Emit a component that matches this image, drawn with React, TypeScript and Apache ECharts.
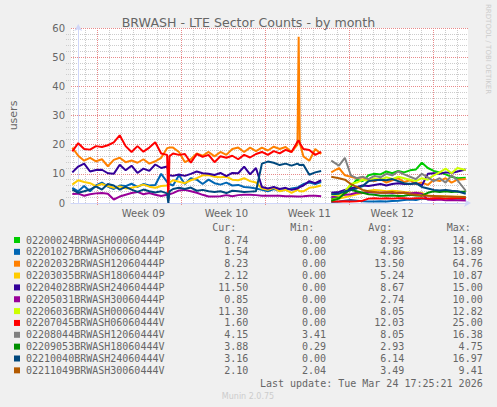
import React, { useEffect, useRef } from "react";
import * as echarts from "echarts";

// x coordinate = days; 0 = first day grid line after the left edge
const seg1Times = [-0.5, 0, 0.5, 1, 1.5, 2, 2.5, 3, 3.5, 4, 4.5, 5, 5.5, 6, 6.5, 7, 7.5, 7.6, 7.7, 8, 8.5, 9, 9.5, 10, 10.5, 11, 11.5, 12, 12.5, 13, 13.5, 14, 14.5, 15, 15.5, 16, 16.5, 17, 17.5, 18, 18.5, 18.6, 18.7, 19, 19.5, 20, 20.5];
const gapTime = 21.0;
const seg2Times = [21.35, 22, 22.5, 23, 23.5, 24, 24.5, 25, 25.5, 26, 26.5, 27, 27.5, 28, 28.5, 29, 29.5, 30, 30.5, 31, 31.5, 32, 32.7];

const weekLabels = ["Week 09", "Week 10", "Week 11", "Week 12"];

// first segment (7 series)
const seg1Blue = [5.2, 4.0, 5.8, 4.0, 6.0, 7.0, 5.6, 4.8, 6.0, 5.8, 6.6, 5.5, 6.5, 6.0, 6.2, 10.0, 7.2, 6.8, 6.5, 6.0, 9.5, 6.5, 8.5, 8.0, 6.5, 8.0, 6.8, 6.3, 7.0, 6.0, 6.2, 5.5, 5.3, 5.0, 4.5, 4.0, 4.8, 4.2, 4.5, 5.0, 5.3, 5.5, 5.8, 6.5, 7.0, 6.5, 7.2];
const seg1Orange = [19.0, 16.2, 14.5, 15.5, 14.3, 15.0, 12.6, 14.8, 15.5, 14.0, 14.6, 13.8, 15.0, 13.5, 14.3, 15.5, 18.8, 18.9, 19.0, 19.0, 17.5, 14.0, 15.0, 17.0, 16.2, 17.5, 16.0, 17.5, 16.5, 18.5, 19.0, 17.5, 19.0, 17.8, 19.0, 18.0, 19.3, 18.5, 19.2, 17.5, 20.0, 57.0, 20.5, 16.0, 14.5, 18.5, 16.8];
const seg1Yellow = [6.3, 7.8, 7.2, 6.8, 5.8, 6.5, 5.8, 5.2, 5.7, 5.0, 5.2, 5.7, 6.3, 5.6, 5.2, 5.8, 6.0, 6.5, 7.0, 7.8, 7.3, 6.8, 7.8, 8.5, 9.5, 9.6, 9.0, 8.8, 9.0, 8.0, 7.8, 8.5, 7.5, 7.0, 5.0, 4.5, 5.2, 4.0, 4.5, 3.5, 4.5, 4.3, 4.0, 4.0, 5.2, 5.5, 6.0];
const seg1Indigo = [10.5, 12.5, 13.5, 10.8, 11.3, 11.4, 10.2, 10.0, 13.1, 11.2, 12.8, 10.3, 11.8, 11.0, 13.2, 12.0, 12.5, 11.0, 9.5, 9.3, 9.8, 9.3, 10.0, 10.8, 10.2, 10.0, 9.6, 10.3, 9.2, 10.3, 10.2, 12.5, 9.8, 12.0, 5.5, 5.0, 5.5, 4.8, 5.2, 4.5, 5.0, 5.2, 5.5, 6.0, 7.5, 6.8, 7.8];
const seg1Purple = [3.1, 3.2, 2.5, 3.0, 3.3, 3.4, 3.2, 1.2, 2.2, 2.8, 3.4, 3.8, 3.0, 3.4, 2.8, 2.4, 2.8, 2.9, 3.0, 3.4, 4.3, 4.5, 4.0, 3.5, 2.8, 2.2, 2.2, 2.3, 2.7, 2.3, 2.7, 2.8, 2.8, 2.7, 2.5, 2.5, 2.5, 2.5, 2.3, 2.3, 2.2, 2.2, 2.2, 2.3, 2.5, 2.5, 2.3];
const seg1Red = [17.7, 20.5, 18.5, 18.3, 19.5, 19.2, 19.8, 20.8, 23.2, 19.5, 17.5, 19.5, 17.6, 19.0, 20.8, 17.0, 16.5, 1.0, 16.0, 17.0, 16.5, 16.8, 13.8, 16.8, 15.8, 16.5, 14.0, 16.0, 15.5, 16.2, 15.0, 16.5, 15.6, 16.8, 17.5, 16.5, 17.8, 17.0, 18.2, 17.5, 21.0, 21.5, 20.5, 18.5, 18.2, 16.5, 17.5];
const seg1DarkBlue = [4.6, 3.5, 4.0, 4.6, 5.7, 4.6, 6.5, 6.0, 4.6, 5.5, 4.6, 3.8, 4.6, 4.0, 3.6, 4.0, 3.3, 0.0, 4.0, 4.8, 5.2, 4.8, 5.3, 4.2, 4.5, 4.0, 3.8, 4.0, 3.4, 4.2, 4.0, 3.8, 3.9, 4.0, 13.5, 14.2, 13.8, 13.0, 13.5, 12.8, 13.5, 13.2, 13.0, 13.1, 9.7, 10.5, 11.0];

// second segment (12 series)
const seg2Green = [1.5, 2.0, 3.0, 5.5, 8.0, 7.5, 9.5, 10.0, 9.8, 10.8, 10.2, 11.0, 10.5, 11.2, 11.5, 13.8, 12.0, 11.0, 10.5, 9.8, 9.0, 8.5, 8.7];
const seg2Blue = [0.3, 0.5, 0.8, 1.0, 0.8, 0.6, 0.5, 0.5, 0.6, 0.5, 0.7, 0.8, 1.0, 1.2, 1.0, 1.5, 1.3, 1.5, 1.6, 1.5, 1.4, 1.5, 1.5];
const seg2Orange = [10.5, 12.0, 9.5, 9.0, 8.5, 8.8, 8.0, 7.5, 8.2, 7.0, 7.8, 8.5, 7.2, 7.8, 6.5, 7.0, 6.2, 8.0, 7.5, 8.5, 7.0, 8.0, 8.2];
const seg2Yellow = [1.0, 1.5, 2.0, 2.5, 3.0, 3.5, 4.2, 4.5, 4.3, 4.0, 4.2, 4.0, 3.8, 3.6, 3.5, 3.5, 2.5, 2.2, 2.3, 2.2, 2.1, 2.2, 2.1];
const seg2Indigo = [3.5, 3.8, 4.5, 5.0, 5.5, 6.0, 5.8, 6.2, 6.5, 6.0, 6.5, 6.8, 6.5, 6.5, 6.8, 6.0, 10.0, 10.2, 10.0, 10.5, 10.3, 10.8, 11.5];
const seg2Purple = [2.0, 2.5, 2.8, 3.0, 3.5, 3.5, 3.8, 3.6, 3.5, 3.6, 3.4, 3.5, 3.5, 3.3, 3.5, 3.2, 1.2, 1.0, 1.2, 0.9, 1.0, 0.9, 0.85];
const seg2Lime = [3.0, 2.5, 4.0, 6.5, 7.0, 8.0, 7.5, 8.5, 8.0, 8.8, 8.2, 9.0, 8.5, 8.0, 7.5, 8.5, 8.0, 9.5, 10.5, 11.8, 10.2, 12.0, 11.3];
const seg2Red = [0.5, 0.5, 0.6, 0.5, 0.6, 0.8, 1.5, 1.6, 1.5, 1.6, 1.5, 1.6, 1.6, 1.5, 1.6, 1.6, 1.5, 1.6, 1.6, 1.5, 1.6, 1.6, 1.6];
const seg2Gray = [14.5, 12.8, 15.5, 9.5, 8.5, 9.0, 8.2, 9.3, 8.8, 10.0, 9.5, 10.8, 9.8, 9.0, 8.2, 10.0, 8.8, 7.5, 8.5, 7.0, 9.5, 7.8, 4.2];
const seg2DarkGreen = [0.8, 1.5, 3.5, 4.5, 4.0, 3.5, 3.0, 2.8, 2.5, 2.5, 2.6, 2.4, 2.5, 2.8, 2.6, 2.5, 3.5, 4.0, 3.8, 4.0, 3.8, 3.9, 3.9];
const seg2DarkBlue = [3.0, 3.2, 4.0, 4.5, 5.0, 5.8, 7.5, 7.8, 8.0, 7.8, 8.2, 7.5, 6.8, 6.5, 6.8, 5.5, 5.0, 4.5, 4.3, 4.5, 4.2, 4.0, 3.2];
const seg2Brown = [9.0, 8.5, 8.0, 6.5, 5.5, 4.5, 4.0, 3.8, 3.5, 3.5, 3.8, 3.3, 3.5, 3.0, 2.8, 2.6, 2.5, 2.4, 2.3, 2.2, 2.2, 2.1, 2.1];

const seriesNames = [
  "02200024BRWASH00060444P", "02201027BRWASH06060444P", "02202032BRWASH12060444P",
  "02203035BRWASH18060444P", "02204028BRWASH24060444P", "02205031BRWASH30060444P",
  "02206036BRWASH00060444V", "02207045BRWASH06060444V", "02208044BRWASH12060444V",
  "02209053BRWASH18060444V", "02210040BRWASH24060444V", "02211049BRWASH30060444V",
];
const seriesColors = ["#00CC00", "#0066B3", "#FF8000", "#FFCC00", "#330099", "#990099", "#CCFF00", "#FF0000", "#808080", "#008F00", "#00487D", "#B35A00"];
const seg1Data = [null, seg1Blue, seg1Orange, seg1Yellow, seg1Indigo, seg1Purple, null, seg1Red, null, null, seg1DarkBlue, null];
const seg2Data = [seg2Green, seg2Blue, seg2Orange, seg2Yellow, seg2Indigo, seg2Purple, seg2Lime, seg2Red, seg2Gray, seg2DarkGreen, seg2DarkBlue, seg2Brown];

const curVals = [8.74, 1.54, 8.23, 2.12, 11.5, 0.85, 11.3, 1.6, 4.15, 3.88, 3.16, 2.1];
const minVals = [0, 0, 0, 0, 0, 0, 0, 0, 3.41, 0.29, 0, 2.04];
const avgVals = [8.93, 4.86, 13.5, 5.24, 8.67, 2.74, 8.05, 12.03, 8.05, 2.93, 6.14, 3.49];
const maxVals = [14.68, 13.89, 64.76, 10.87, 15.0, 10.0, 12.82, 25.0, 16.38, 4.75, 16.97, 9.41];

const lastUpdate = "Last update: Tue Mar 24 17:25:21 2026";

function buildData(a: number[] | null, b: number[]) {
  const out: any[] = [];
  if (a) seg1Times.forEach((t, i) => out.push([t, a[i]]));
  out.push([gapTime, null]);
  seg2Times.forEach((t, i) => out.push([t, b[i]]));
  return out;
}

const MONO = "'DejaVu Sans Mono', monospace";
const SANS = "'DejaVu Sans', sans-serif";
const FONT = "#666666";
const GRID_MINOR = "#cccccc";
const GRID_MAJOR = "#e88a8a";
const AXIS = "#CFD6F8";

// plot geometry
const PLOT_LEFT = 66;
const PLOT_TOP = 28;
const PLOT_W = 402;
const PLOT_H = 175;
const Y_MAX = 60;
const PX_PER_DAY = 12;
const PX_PER_UNIT = PLOT_H / Y_MAX;
const DAY_MIN = -0.61; // left edge, in days
const DAY_MAX = DAY_MIN + PLOT_W / PX_PER_DAY;
const LAST_DAY_LINE = 32;
const FIRST_WEEK_DAY = 2;

export default function App() {
  const ref = useRef<HTMLDivElement>(null);
  useEffect(() => {
    if (!ref.current) return;
    const chart = echarts.init(ref.current, null, { renderer: "svg" });

    const series = seriesNames.map((name, i) => ({
      name,
      type: "line",
      xAxisIndex: 0,
      yAxisIndex: 0,
      data: buildData(seg1Data[i], seg2Data[i]),
      showSymbol: false,
      symbol: "none",
      connectNulls: false,
      lineStyle: { color: seriesColors[i], width: 2 },
      itemStyle: { color: seriesColors[i] },
      z: 5 + i * 0.01,
    }));

    // ---------- legend / texts ----------
    const g: any[] = [];
    const rowY0 = 240;
    const rowDY = 11.85;
    const headerY = 227.3;
    const colRight = [248.3, 326, 404.3, 482.7];
    const headers = ["Cur:", "Min:", "Avg:", "Max:"];
    const headerLeft = [212.3, 290.3, 368.3, 446.7];
    headers.forEach((h, k) => {
      g.push({ type: "text", x: headerLeft[k], y: headerY, style: { text: h, fill: FONT, fontSize: 10, fontFamily: MONO, align: "left", verticalAlign: "middle" } });
    });
    seriesNames.forEach((name, i) => {
      const y = rowY0 + i * rowDY;
      g.push({ type: "rect", shape: { x: 14, y: y - 3, width: 6, height: 6 }, style: { fill: seriesColors[i] } });
      g.push({ type: "text", x: 26, y, style: { text: name, fill: FONT, fontSize: 10, fontFamily: MONO, align: "left", verticalAlign: "middle" } });
      [curVals[i], minVals[i], avgVals[i], maxVals[i]].forEach((v, k) => {
        g.push({ type: "text", x: colRight[k], y, style: { text: v.toFixed(2), fill: FONT, fontSize: 10, fontFamily: MONO, align: "right", verticalAlign: "middle" } });
      });
    });
    g.push({ type: "text", x: 482.7, y: 383.3, style: { text: lastUpdate, fill: FONT, fontSize: 10, fontFamily: MONO, align: "right", verticalAlign: "middle" } });
    g.push({ type: "text", x: 248, y: 396.3, style: { text: "Munin 2.0.75", fill: "#cccccc", fontSize: 8, fontFamily: SANS, align: "center", verticalAlign: "middle" } });
    g.push({ type: "text", x: 488, y: 4, rotation: -Math.PI / 2, style: { text: "RRDTOOL / TOBI OETIKER", fill: "#cccccc", fontSize: 7, fontFamily: SANS, align: "left", verticalAlign: "middle" } });

    // ---------- grids & axes ----------
    const grids: any[] = [
      { left: PLOT_LEFT, top: PLOT_TOP, width: PLOT_W, height: PLOT_H, show: true, backgroundColor: "#FFFFFF", borderWidth: 0 },
    ];
    const xAxes: any[] = [
      {
        // data axis
        type: "value", gridIndex: 0, position: "bottom", min: DAY_MIN, max: DAY_MAX, z: 3,
        axisLine: { show: true, onZero: false, lineStyle: { color: AXIS, width: 1 }, symbol: ["none", "arrow"], symbolSize: [6, 7], symbolOffset: [0, 3] },
        axisTick: { show: false },
        axisLabel: { show: false },
        splitLine: { show: false },
      },
      {
        // week labels (mid-week)
        type: "value", gridIndex: 0, position: "bottom", min: DAY_MIN + 1.5, max: DAY_MAX + 1.5, splitNumber: 5, minInterval: 7, maxInterval: 7,
        axisLine: { show: false },
        axisTick: { show: false },
        splitLine: { show: false },
        axisLabel: {
          show: true, showMinLabel: false, showMaxLabel: false, color: FONT, fontSize: 10, fontFamily: SANS, margin: 5,
          formatter: (v: number) => weekLabels[Math.round(v / 7) - 1] ?? "",
        },
      },
    ];
    const yAxes: any[] = [
      {
        type: "value", gridIndex: 0, position: "left", min: 0, max: Y_MAX, interval: 10, z: 3,
        name: "users", nameLocation: "middle", nameGap: 52,
        nameTextStyle: { color: FONT, fontSize: 11, fontFamily: SANS },
        axisLine: { show: true, lineStyle: { color: AXIS, width: 1 }, symbol: ["none", "arrow"], symbolSize: [6, 7], symbolOffset: [0, 4] },
        axisTick: { show: false },
        axisLabel: { color: FONT, fontSize: 10, fontFamily: SANS, margin: 6 },
        splitLine: { show: true, showMinLine: false, lineStyle: { color: GRID_MAJOR, type: [1, 1], width: 1 } },
      },
    ];

    const dayLeft = PLOT_LEFT + (0 - DAY_MIN) * PX_PER_DAY;
    // vertical minor lines: one overlay grid per weekday offset (skipping the week line offset)
    [0, 1, 3, 4, 5, 6].forEach((o) => {
      const gi = grids.length;
      const k = Math.floor((LAST_DAY_LINE - o) / 7);
      grids.push({ left: dayLeft + o * PX_PER_DAY, top: PLOT_TOP, width: k * 7 * PX_PER_DAY, height: PLOT_H, show: false });
      xAxes.push({
        type: "value", gridIndex: gi, position: "bottom", min: 0, max: k * 7, interval: 7,
        axisLine: { show: false }, axisTick: { show: false }, axisLabel: { show: false },
        splitLine: { show: true, lineStyle: { color: GRID_MINOR, type: [1, 1], width: 1 } },
      });
      yAxes.push({ type: "value", gridIndex: gi, min: 0, max: Y_MAX, show: false });
    });
    // vertical week lines
    {
      const gi = grids.length;
      grids.push({ left: dayLeft + FIRST_WEEK_DAY * PX_PER_DAY, top: PLOT_TOP, width: 28 * PX_PER_DAY, height: PLOT_H, show: false });
      xAxes.push({
        type: "value", gridIndex: gi, position: "bottom", min: 0, max: 28, interval: 7,
        axisLine: { show: false }, axisLabel: { show: false },
        axisTick: { show: true, length: 2, lineStyle: { color: GRID_MAJOR } },
        splitLine: { show: true, lineStyle: { color: GRID_MAJOR, type: [1, 1], width: 1 } },
      });
      yAxes.push({ type: "value", gridIndex: gi, min: 0, max: Y_MAX, show: false });
    }
    // horizontal minor lines (2, 4, 6, 8 within each 10)
    [2, 4, 6, 8].forEach((a) => {
      const gi = grids.length;
      const bottomPx = PLOT_TOP + PLOT_H - a * PX_PER_UNIT;
      const h = 50 * PX_PER_UNIT;
      grids.push({ left: PLOT_LEFT, top: bottomPx - h, width: PLOT_W, height: h, show: false });
      xAxes.push({ type: "value", gridIndex: gi, min: 0, max: 1, show: false });
      yAxes.push({
        type: "value", gridIndex: gi, position: "left", min: 0, max: 50, interval: 10,
        axisLine: { show: false }, axisTick: { show: false }, axisLabel: { show: false },
        splitLine: { show: true, lineStyle: { color: GRID_MINOR, type: [1, 1], width: 1 } },
      });
    });

    chart.setOption({
      animation: false,
      backgroundColor: "#F0F0F0",
      title: {
        text: "BRWASH - LTE Sector Counts - by month",
        left: "center",
        top: 11,
        textStyle: { color: FONT, fontSize: 12.6, fontWeight: "normal", fontFamily: SANS },
      },
      grid: grids,
      xAxis: xAxes,
      yAxis: yAxes,
      series,
      graphic: g,
    });
    return () => chart.dispose();
  }, []);
  return <div ref={ref} style={{ position: "fixed", left: 0, top: 0, width: 497, height: 407 }} />;
}
